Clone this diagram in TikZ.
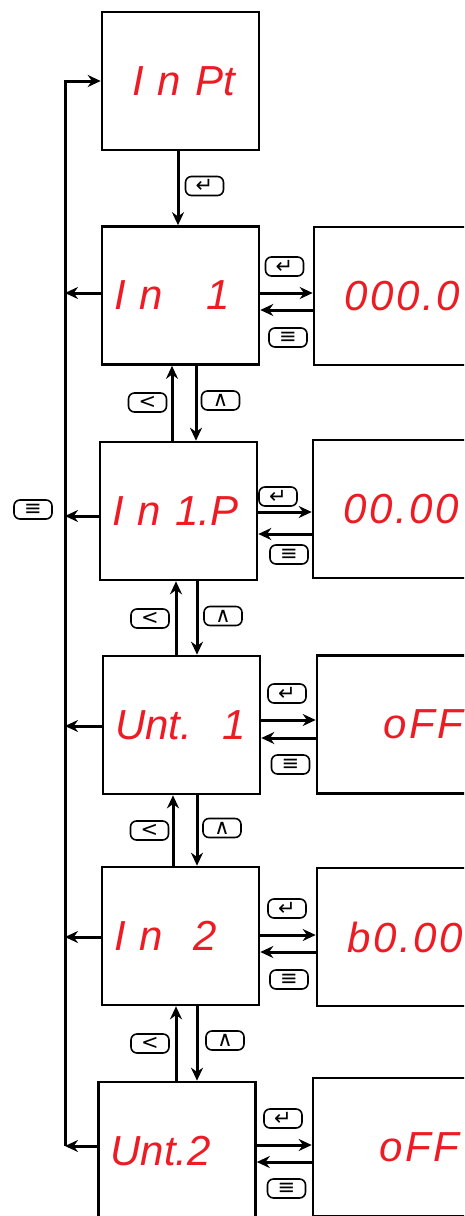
\documentclass[tikz,border=0pt]{standalone}
\usepackage{fontspec}
\usetikzlibrary{arrows.meta}
\newfontfamily\segfont{Liberation Sans}
\newfontfamily\keyfont{DejaVu Sans}
\definecolor{segred}{HTML}{ED1C24}
\tikzset{
	disp/.style={draw,line width=2.6pt,minimum width=157pt,minimum height=138pt,text width=133pt,inner xsep=12pt,align=left,text=segred,font=\segfont\itshape\fontsize{42}{42}\selectfont},
	val/.style={disp,text width=134pt,align=right,font=\segfont\itshape\fontsize{42}{42}\selectfont\addfontfeature{LetterSpace=6}},
	key/.style={draw,line width=1.6pt,rounded corners=6pt,minimum width=38pt,minimum height=19pt,inner sep=0pt,font=\keyfont\fontsize{21}{21}\selectfont}
}
\begin{document}
\begin{tikzpicture}[x=1pt,y=-1pt,arr/.style={line width=3pt,-{Stealth[length=13pt,width=12pt]}}]
	\clip (0,0) rectangle (464,1216);
	% parameter displays
	\node[disp] (inpt) at (180.5,81) {\hspace*{18pt}I n Pt};
	\node[disp] (in1) at (180.5,295.5) {I n\hspace{44pt}1};
	\node[disp] (in1p) at (178.5,511) {I n 1.P};
	\node[disp] (unt1) at (181.5,725) {Unt.\hspace{30pt}1};
	\node[disp] (in2) at (180.5,936) {I n\hspace{30pt}2};
	\node[disp] (unt2) at (177,1151) {Unt.2};
	% values
	\node[val] (v1) at (393,296) {000.0};
	\node[val] (v2) at (392,509) {00.00};
	\node[val] (v3) at (396,724.5) {oFF};
	\node[val] (v4) at (396,937) {b0.00};
	\node[val] (v5) at (392,1147) {oFF};
	% menu bus on the left
	\coordinate (bot) at (65,1146);
	\draw[arr] (bot) |- (inpt.west);
	\foreach \a/\s in {in1/2.5,in1p/-5,unt1/-1,in2/-1,unt2/5}
		\draw[arr] ([yshift=\s pt]\a.west) -- ([yshift=\s pt]\a.west -| bot);
	\node[key] (kmenu) at (33,509.5) {≡};
	% enter into the list
	\draw[arr] ([xshift=-2.5pt]inpt.south) -- ([xshift=-2.5pt]inpt.south |- in1.north);
	\node[key] (kin) at (204.5,186) {↵};
	% up / down between parameters
	\foreach \a/\b/\l/\r in {in1/in1p/-8.5/15.5,in1p/unt1/-2.5/18.5,unt1/in2/-8.5/15.5,in2/unt2/-4.5/16.5}{
		\draw[arr] ([xshift=\l pt]\a.south |- \b.north) -- ([xshift=\l pt]\a.south);
		\draw[arr] ([xshift=\r pt]\a.south) -- ([xshift=\r pt]\a.south |- \b.north);
	}
	\foreach \x/\y [count=\i] in {147.5/402.5,150/618.5,149.5/830.5,150/1043.5}
		\node[key] (kl\i) at (\x,\y) {<};
	\foreach \x/\y [count=\i] in {220.5/400.5,223/616,222/828,225/1040.5}
		\node[key] (ku\i) at (\x,\y) {∧};
	% edit value and back
	\foreach \a/\b/\u/\d in {in1/v1/2.5/-14.5,in1p/v2/-1/-23,unt1/v3/5/-13,in2/v4/1/-16,unt2/v5/6/-11}{
		\draw[arr] ([yshift=\u pt]\a.east) -- ([yshift=\u pt]\a.east -| \b.west);
		\draw[arr] ([yshift=\d pt]\a.east -| \b.west) -- ([yshift=\d pt]\a.east);
	}
	\foreach \x/\y [count=\i] in {284.5/266.5,278/496.5,287/693.5,287/908.5,283/1118.5}
		\node[key] (ke\i) at (\x,\y) {↵};
	\foreach \x/\y [count=\i] in {288/337.5,289/554.5,290.5/764.5,289/979.5,286.5/1188.5}
		\node[key] (km\i) at (\x,\y) {≡};
\end{tikzpicture}
\end{document}
